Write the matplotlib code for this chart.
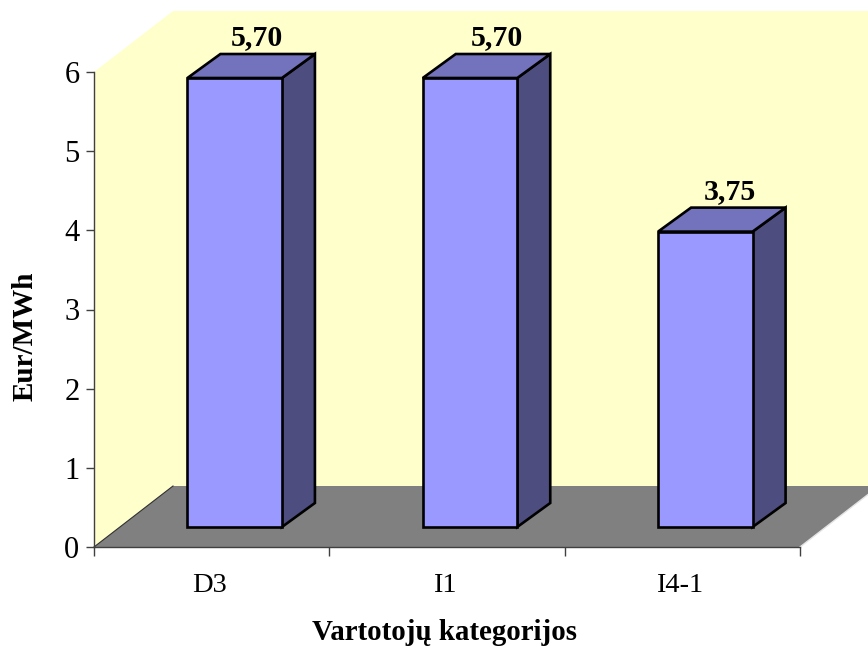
import matplotlib
matplotlib.use('Agg')
import matplotlib.pyplot as plt

categories = ['D3', 'I1', 'I4-1']
values = [5.70, 5.70, 3.75]
value_labels = ['5,70', '5,70', '3,75']
yticks = [0, 1, 2, 3, 4, 5, 6]

plt.rcParams['font.family'] = ['Liberation Serif', 'DejaVu Serif']

W, H = 868, 646
fig = plt.figure(figsize=(W / 100, H / 100), dpi=100)
# axes box = front plane of the 3d chart, in pixels
x0, x1, y0, y1 = 94, 800, 547, 72
ax = fig.add_axes([x0 / W, 1 - y0 / H, (x1 - x0) / W, (y0 - y1) / H])
ax.set_xlim(0, 3)
ax.set_ylim(0, 6)
ax.patch.set_visible(False)
for s in ['top', 'right']:
    ax.spines[s].set_visible(False)
for s in ['left', 'bottom']:
    ax.spines[s].set_linewidth(1.0)
    ax.spines[s].set_color('#404040')
    ax.spines[s].set_zorder(2)

# depth of the box and of the bars, in axis units
ux = (x1 - x0) / 3
uy = (y0 - y1) / 6
box_dx, box_dy = 79 / ux, 61 / uy
bar_dx, bar_dy = 33 / ux, 24 / uy
base_dx, base_dy = 23 / ux, 20 / uy
width = 94.5 / ux
label_shift = [6 / ux, 10 / ux, 8.5 / ux]

# back wall and floor
xr = 3 + box_dx
ax.fill([0, box_dx, xr, xr, box_dx, 0], [6, 6 + box_dy, 6 + box_dy, box_dy, box_dy, 0],
        facecolor='#FFFFCC', edgecolor='none', clip_on=False, zorder=0)
ax.fill([0, box_dx, xr, 3], [0, box_dy, box_dy, 0],
        facecolor='#808080', edgecolor='none', clip_on=False, zorder=1)
ax.plot([0, box_dx], [0, box_dy], color='#303030', lw=0.8, clip_on=False, zorder=1.5)
ax.plot([3, xr], [0, box_dy], color='#e4e4e4', lw=1.0, clip_on=False, zorder=1.5)

# bars
for i, v in enumerate(values):
    left = i + 0.5 - width / 2 + base_dx
    right = left + width
    bottom = base_dy
    top = base_dy + v * 0.995
    ax.fill([right, right + bar_dx, right + bar_dx, right],
            [bottom, bottom + bar_dy, top + bar_dy, top],
            facecolor='#4D4D80', edgecolor='black', lw=1.9, zorder=3, clip_on=False)
    ax.fill([left, left + bar_dx, right + bar_dx, right],
            [top, top + bar_dy, top + bar_dy, top],
            facecolor='#7373BD', edgecolor='black', lw=1.9, zorder=3, clip_on=False)
    ax.bar(left, v * 0.995, width=width, bottom=bottom, align='edge', color='#9999FF',
           edgecolor='black', lw=1.9, zorder=4, clip_on=False)
    ax.text((left + right + bar_dx) / 2 + label_shift[i], top + bar_dy + 9 / uy, value_labels[i],
            ha='center', va='baseline', fontsize=21.5, fontweight='bold', zorder=5)

ax.set_yticks(yticks)
ax.set_yticklabels([str(t) for t in yticks], fontsize=22)
ax.set_xticks([0, 1, 2, 3])
ax.set_xticklabels([])
ax.tick_params(axis='y', length=6, width=1.0, pad=4.5, color='#404040')
ax.tick_params(axis='x', length=6.5, width=1.0, color='#404040')
for i, c in enumerate(categories):
    ax.text(i + 0.5 - 0.01, -45 / uy, c, ha='center', va='baseline', fontsize=20.5)

fig.text(445 / W, 1 - 640 / H, 'Vartotojų kategorijos', ha='center', va='baseline',
         fontsize=20.8, fontweight='bold')
fig.text(25 / W, 1 - 336 / H, 'Eur/MWh', ha='center', va='center', rotation=90,
         fontsize=21, fontweight='bold')

fig.savefig('out.png', dpi=100)
